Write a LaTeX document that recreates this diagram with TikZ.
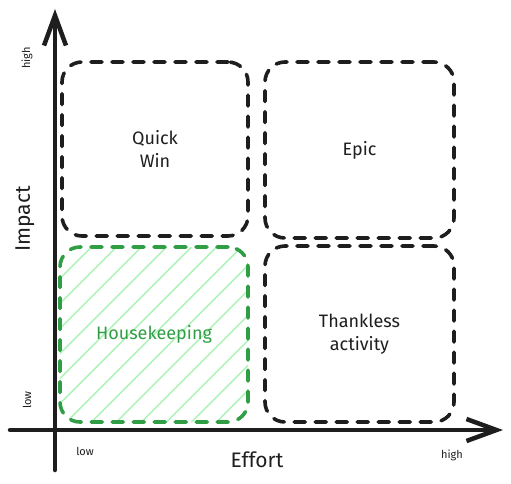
\documentclass[tikz,border=0pt]{standalone}
\usepackage{fontspec}
\setmainfont{Fira Sans}
\usetikzlibrary{arrows.meta}
\definecolor{ink}{HTML}{1E1E1E}
\definecolor{grn}{HTML}{2F9E44}
\definecolor{hatchc}{HTML}{B2F2BB}
\tikzset{
  quad/.style={draw=ink, line width=3.6pt, dash pattern=on 11pt off 10pt, line cap=round,
    rounded corners=20pt, align=center, font=\fontsize{18}{23}\selectfont, text=ink, inner sep=0pt},
  axis/.style={draw=ink, line width=4.5pt, line cap=round,
    -{Straight Barb[length=30pt,width=22pt,line width=4.5pt]}},
  axlabel/.style={font=\fontsize{21}{24}\selectfont, text=ink, inner sep=0pt},
  tick/.style={font=\fontsize{11}{13}\selectfont, text=ink, inner sep=0pt},
  hatch/.style={draw=hatchc, line width=1.6pt, solid}
}
\begin{document}
\begin{tikzpicture}[x=1pt,y=-1pt]
\useasboundingbox (0,0) rectangle (511,483);
% boxes
\node[quad, minimum width=186pt, minimum height=174pt] (qw) at (155,149) {Quick\\Win};
\node[quad, minimum width=189pt, minimum height=176pt] (ep) at (359.5,150) {Epic};
\node[quad, minimum width=189pt, minimum height=176pt] (th) at (359.5,334) {Thankless\\activity};
\node[quad, draw=grn, text=grn, minimum width=188pt, minimum height=175pt,
  path picture={
    \foreach \c in {-200,-175,...,200} {
      \draw[hatch] ([shift={(\c pt-100pt,-100pt)}]path picture bounding box.center)
        -- ([shift={(\c pt+100pt,100pt)}]path picture bounding box.center);
    }
  }] (hk) at (154,334.5) {Housekeeping};
% axes
\coordinate (yb) at (55,470);
\coordinate (yt) at (55,9);
\coordinate (xl) at (10,430);
\coordinate (xr) at (503,430);
\draw[axis] (yb) -- (yt);
\draw[axis] (xl) -- (xr);
% labels
\node[axlabel, rotate=90] (imp) at (25,219) {Impact};
\node[axlabel] (eff) at (257,460) {Effort};
\node[tick, rotate=90] (yh) at (27,58) {high};
\node[tick, rotate=90] (yl) at (27,400) {low};
\node[tick] (xlo) at (85,451) {low};
\node[tick] (xhi) at (452,455) {high};
\end{tikzpicture}
\end{document}
